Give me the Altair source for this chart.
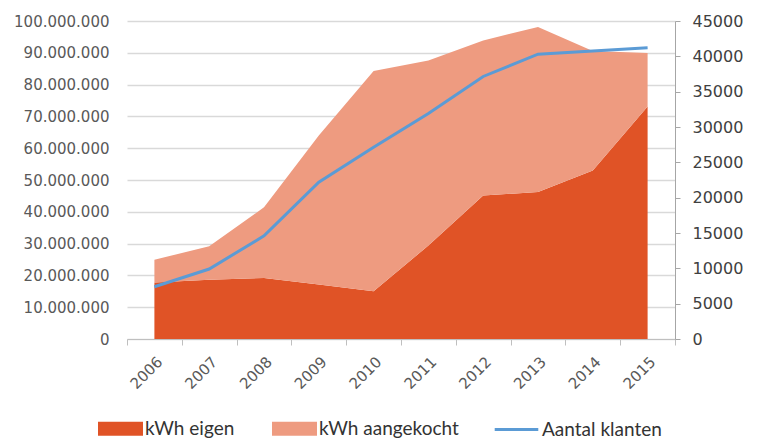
import altair as alt
import pandas as pd

years = ["2006", "2007", "2008", "2009", "2010", "2011", "2012", "2013", "2014", "2015"]
kwh_eigen = [17.8e6, 18.6e6, 19.2e6, 17.1e6, 15.0e6, 29.4e6, 45.1e6, 46.2e6, 53.0e6, 73.1e6]
kwh_aangekocht = [7.1e6, 10.6e6, 22.2e6, 46.9e6, 69.3e6, 58.2e6, 48.8e6, 51.9e6, 37.6e6, 16.8e6]
aantal_klanten = [7400, 9900, 14600, 22200, 27150, 31900, 37150, 40300, 40750, 41200]

series_names = ["kWh eigen", "kWh aangekocht"]
line_name = "Aantal klanten"

rows = []
for i, y in enumerate(years):
    rows.append({"year": y, "series": series_names[0], "value": kwh_eigen[i], "ord": 0})
    rows.append({"year": y, "series": series_names[1], "value": kwh_aangekocht[i], "ord": 1})
area_df = pd.DataFrame(rows)
line_df = pd.DataFrame({"year": years, "klanten": aantal_klanten, "series": [line_name] * len(years)})

label_color = "#595959"
font = "DejaVu Sans"

x_enc = alt.X(
    "year:O",
    bandPosition=0.5,
    scale=alt.Scale(type="band", paddingInner=0, paddingOuter=0),
    axis=alt.Axis(
        title=None,
        tickBand="extent",
        labelAngle=-45,
        labelFont=font,
        labelFontSize=15,
        labelColor=label_color,
        domainColor="#BFBFBF",
        tickColor="#BFBFBF",
        tickSize=6,
        labelPadding=9,
    ),
)

areas = alt.Chart(area_df).mark_area(opacity=1).encode(
    x=x_enc,
    y=alt.Y(
        "value:Q",
        stack="zero",
        scale=alt.Scale(domain=[0, 100e6], nice=False),
        axis=alt.Axis(
            title=None,
            values=[i * 10e6 for i in range(11)],
            labelExpr="replace(format(datum.value, ','), regexp(',', 'g'), '.')",
            domain=False,
            ticks=False,
            labelPadding=18,
            labelFont=font,
            labelFontSize=15,
            labelColor=label_color,
            grid=True,
            gridColor="#D9D9D9",
            gridWidth=1.3,
        ),
    ),
    fill=alt.Fill(
        "series:N",
        scale=alt.Scale(domain=series_names, range=["#E05326", "#EE9B80"]),
        legend=alt.Legend(
            title=None,
            orient="none",
            legendX=-29,
            legendY=385,
            direction="horizontal",
            columns=2,
            columnPadding=37,
            symbolType="M-1,-0.31H1V0.31H-1Z",
            symbolSize=2025,
            symbolStrokeWidth=0,
            labelFont="Lato",
            labelFontSize=19,
            labelColor="#333333",
            labelOffset=2,
        ),
    ),
    order=alt.Order("ord:Q", sort="ascending"),
)

line = alt.Chart(line_df).mark_line(strokeWidth=3).encode(
    x=x_enc,
    y=alt.Y(
        "klanten:Q",
        scale=alt.Scale(domain=[0, 45000], nice=False),
        axis=alt.Axis(
            title=None,
            orient="right",
            values=[i * 5000 for i in range(10)],
            format="d",
            grid=False,
            domainColor="#A6A6A6",
            tickColor="#A6A6A6",
            tickSize=5,
            labelPadding=12,
            labelFont=font,
            labelFontSize=16,
            labelColor="#404040",
        ),
    ),
    stroke=alt.Stroke(
        "series:N",
        scale=alt.Scale(domain=[line_name], range=["#5B9BD5"]),
        legend=alt.Legend(
            title=None,
            orient="none",
            legendX=366,
            legendY=385,
            symbolType="M-1,0H1",
            symbolSize=1900,
            symbolStrokeWidth=3,
            symbolStrokeColor="#5B9BD5",
            labelFont="Lato",
            labelFontSize=19,
            labelColor="#333333",
            labelOffset=2,
        ),
    ),
)

chart = (
    alt.layer(areas, line)
    .resolve_scale(y="independent", fill="independent", stroke="independent")
    .properties(width=548, height=318, padding={"left": 5, "top": 5, "right": 5, "bottom": 0})
    .configure_view(stroke=None)
)

chart.save("out.html", embed_options={"renderer": "svg", "actions": False})
